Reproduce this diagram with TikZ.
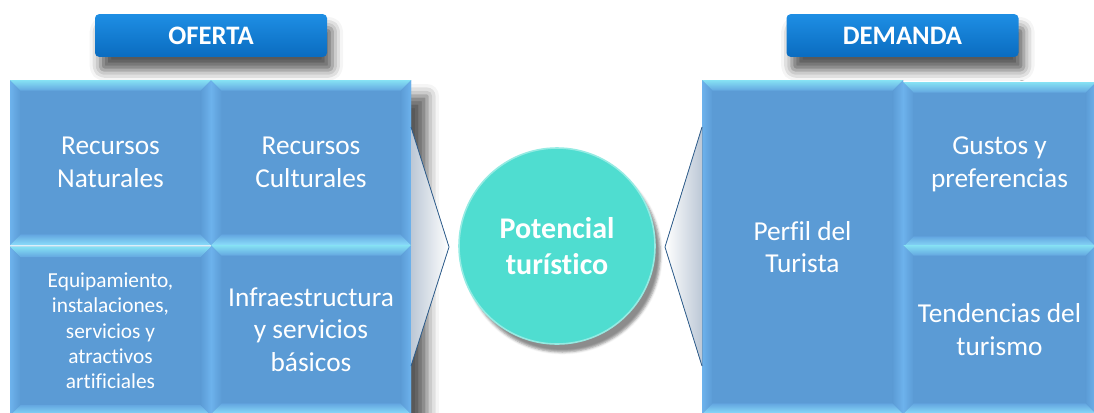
\documentclass[tikz,border=0pt]{standalone}
\usepackage{fontspec}
\setmainfont[Ligatures=NoCommon]{Carlito}
\usetikzlibrary{shadows.blur}

\definecolor{cellblue}{HTML}{5B9BD5}
\definecolor{bevin}{HTML}{63A6E0}
\definecolor{bevtop}{HTML}{86E2F4}
\definecolor{bevbot}{HTML}{8ADCFA}
\definecolor{bevside}{HTML}{6DB2EC}
\definecolor{hdrtop}{HTML}{1E8EE4}
\definecolor{hdrbot}{HTML}{0A6CC0}
\definecolor{turq}{HTML}{4FDDD0}
\definecolor{chevline}{HTML}{2E5E8E}
\definecolor{chevgray}{HTML}{BCC8D6}

\tikzset{
  bevel/.style={path picture={
    \coordinate (pnw) at (path picture bounding box.north west);
    \coordinate (pne) at (path picture bounding box.north east);
    \coordinate (psw) at (path picture bounding box.south west);
    \coordinate (pse) at (path picture bounding box.south east);
    \fill[left color=bevside, right color=cellblue] (pnw) -- ([shift={(#1,-#1)}]pnw) -- ([shift={(#1,#1)}]psw) -- (psw) -- cycle;
    \fill[left color=cellblue, right color=bevside] (pne) -- ([shift={(-#1,-#1)}]pne) -- ([shift={(-#1,#1)}]pse) -- (pse) -- cycle;
    \fill[top color=bevtop, bottom color=bevin] (pnw) -- (pne) -- ([shift={(-#1,-#1)}]pne) -- ([shift={(#1,-#1)}]pnw) -- cycle;
    \fill[top color=bevin, bottom color=bevbot] (psw) -- (pse) -- ([shift={(-#1,#1)}]pse) -- ([shift={(#1,#1)}]psw) -- cycle;
  }},
  cell/.style={rectangle, fill=cellblue, bevel=8pt, text=white, align=center,
    inner sep=0pt, font=\fontsize{20.5}{24.5}\selectfont},
  header/.style={rectangle, rounded corners=3pt, top color=hdrtop, bottom color=hdrbot,
    minimum width=174pt, minimum height=32pt, text=white,
    font=\bfseries\fontsize{20}{22}\selectfont,
    blur shadow={shadow xshift=4pt, shadow yshift=-10pt, shadow blur radius=8pt, shadow opacity=65}},
  chevedge/.style={draw=chevline, line width=0.6pt},
  gridshadow/.style={fill=white, blur shadow={shadow xshift=12pt, shadow yshift=-12pt, shadow blur radius=9pt, shadow opacity=65}}
}

\begin{document}
\begin{tikzpicture}[x=0.75pt, y=-0.75pt]
	\useasboundingbox (0,0) rectangle (1094,412);

	% shadows behind the two grids
	\path[gridshadow] (10,80) rectangle (411,420);
	\path[gridshadow] (702,80) rectangle (1100,420);

	% headers
	\node[header] (hdrOferta) at (211,35.5) {OFERTA};
	\node[header] (hdrDemanda) at (902.5,35.5) {DEMANDA};

	% oferta
	\node[cell, minimum width=150.75pt, minimum height=123.75pt] (recNat) at (110.5,162.5) {Recursos\\Naturales};
	\node[cell, minimum width=150pt, minimum height=123.75pt] (recCul) at (311,162.5) {Recursos\\Culturales};
	\node[cell, minimum width=150.75pt, minimum height=126.75pt, font=\fontsize{16}{19}\selectfont] (equip) at (110.5,331) {Equipamiento,\\instalaciones,\\servicios y\\atractivos\\artificiales};
	\node[cell, minimum width=150pt, minimum height=126.75pt] (infra) at (311,329.5) {Infraestructura\\y servicios\\básicos};

	% demanda
	\node[cell, minimum width=150.75pt, minimum height=250.5pt] (perfil) at (802.5,247) {Perfil del\\Turista};
	\node[cell, minimum width=144.75pt, minimum height=123.75pt] (gustos) at (999.5,164.5) {Gustos y\\preferencias};
	\node[cell, minimum width=144.75pt, minimum height=126.75pt] (tendencias) at (999.5,329.5) {Tendencias del\\turismo};

	% chevrons
	\coordinate (tipL) at (449,247);
	\coordinate (tipR) at (665,247);
	\fill[left color=chevgray, right color=white] (411,127) -- (tipL) -- (411,366) -- cycle;
	\draw[chevedge] (411,127) -- (tipL) -- (411,366);
	\fill[left color=white, right color=chevgray] (702,127) -- (tipR) -- (702,366) -- cycle;
	\draw[chevedge] (702,127) -- (tipR) -- (702,366);

	% centro
	\node[circle, fill=turq, draw=turq!60!white, line width=1.2pt, minimum size=147pt,
		text=white, align=center, font=\bfseries\fontsize{22.5}{27.5}\selectfont,
		blur shadow={shadow xshift=4pt, shadow yshift=-6pt, shadow opacity=45}] (potencial) at (557,246) {Potencial\\turístico};
\end{tikzpicture}
\end{document}
